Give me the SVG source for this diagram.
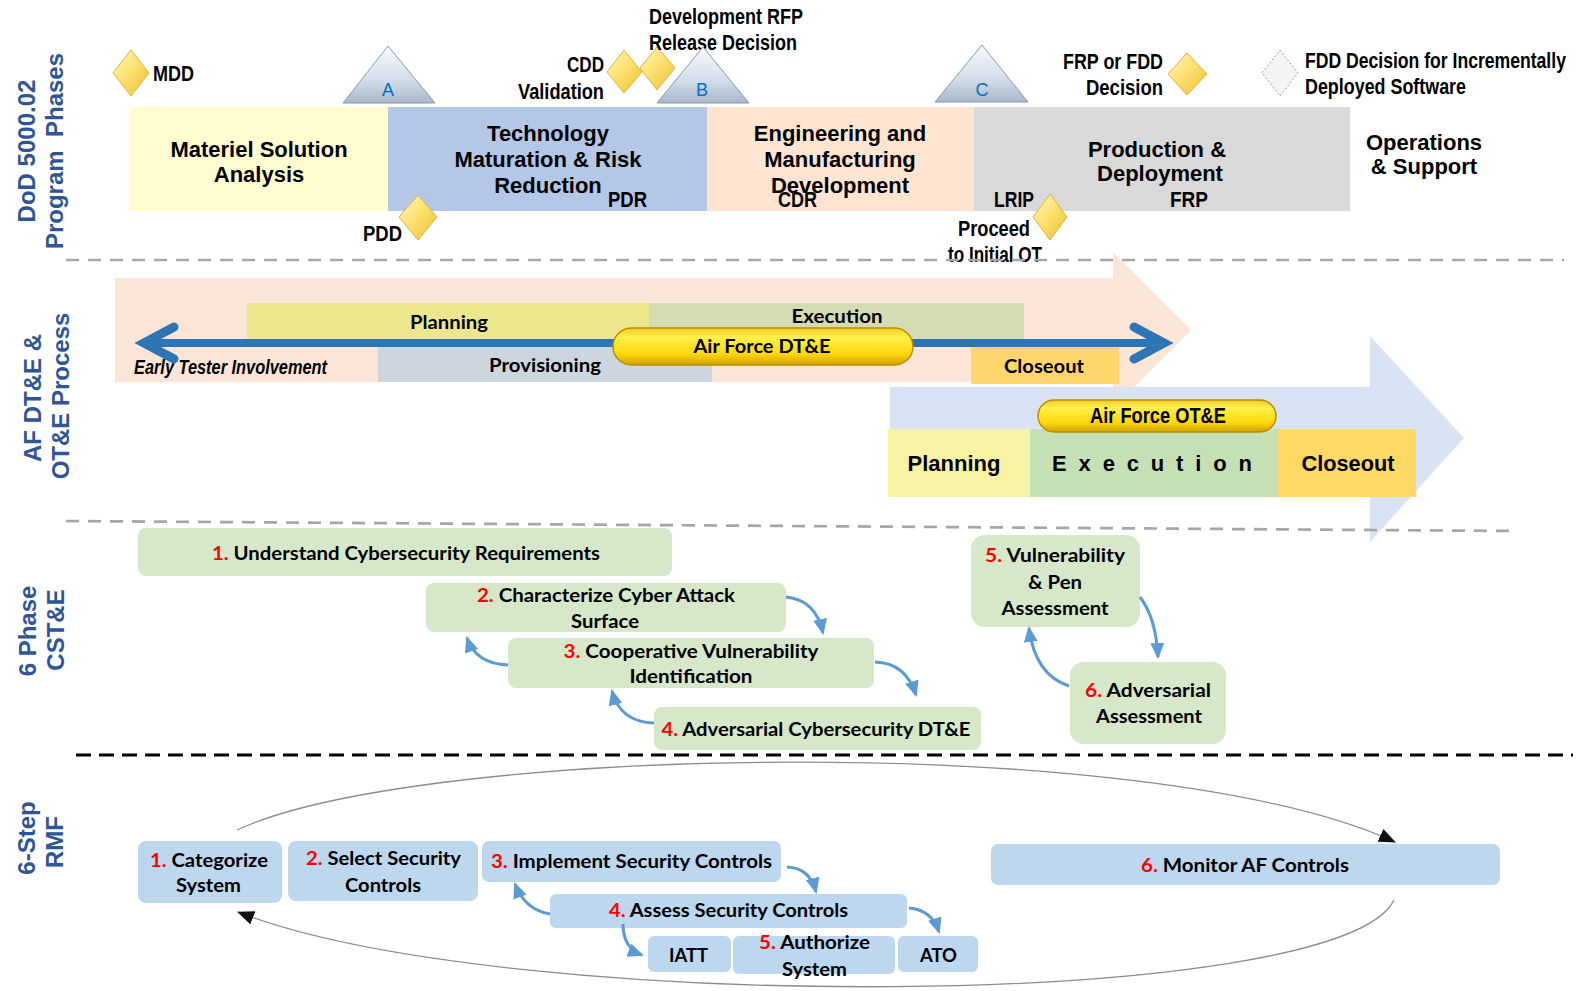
<svg xmlns="http://www.w3.org/2000/svg" width="1589" height="991" viewBox="0 0 1589 991">
<defs>
<linearGradient id="gold" x1="0" y1="0" x2="1" y2="1">
<stop offset="0" stop-color="#FFF6C4"/><stop offset="0.45" stop-color="#FFE274"/><stop offset="1" stop-color="#E9BC2C"/>
</linearGradient>
<linearGradient id="tri" x1="0" y1="0" x2="0" y2="1">
<stop offset="0" stop-color="#F8FAFD"/><stop offset="0.6" stop-color="#D3DDEA"/><stop offset="1" stop-color="#A8B7CA"/>
</linearGradient>
<linearGradient id="pill" x1="0" y1="0" x2="0" y2="1">
<stop offset="0" stop-color="#F0CB2A"/><stop offset="0.25" stop-color="#FFF04A"/><stop offset="0.7" stop-color="#FFD70E"/><stop offset="1" stop-color="#D3A000"/>
</linearGradient>
<marker id="ba" viewBox="0 0 16 14" refX="14" refY="7" markerWidth="16" markerHeight="14" markerUnits="userSpaceOnUse" orient="auto">
<path d="M0,0 L16,7 L0,14 z" fill="#5B9BD5"/>
</marker>
<marker id="ka" viewBox="0 0 17 14" refX="16" refY="7" markerWidth="17" markerHeight="14" markerUnits="userSpaceOnUse" orient="auto">
<path d="M0,0 L17,7 L0,14 z" fill="#111111"/>
</marker>
<style>
.t22{font-family:"Liberation Sans",Arial,sans-serif;font-weight:bold;font-size:22px;fill:#000;text-anchor:middle}
.nar{font-family:"Liberation Sans Narrow","Liberation Sans",Arial,sans-serif;font-weight:bold;font-size:22px;fill:#000}
.cal{font-family:Lato,"Open Sans",sans-serif;font-weight:bold;font-size:19px;fill:#000;text-anchor:middle}
.side{font-family:"Liberation Sans",Arial,sans-serif;font-weight:bold;font-size:24px;fill:#2F5597;text-anchor:middle}
.tl{font-family:"Liberation Sans",Arial,sans-serif;font-size:18px;fill:#0070C0;text-anchor:middle}
.num{fill:#FF0000}
.gbox{fill:#D6E8C9}
.bbox{fill:#BDD7EE}
.conn{fill:none;stroke:#5B9BD5;stroke-width:3;marker-end:url(#ba)}
.arc{fill:none;stroke:#8C8C8C;stroke-width:1.3;marker-end:url(#ka)}
.gold{fill:url(#gold);stroke:#E0B23A;stroke-width:1}
.tri{fill:url(#tri);stroke:#8A98AB;stroke-width:1}
.pill{fill:url(#pill);stroke:#B88F00;stroke-width:1.5}
.gdash{stroke:#A6A6A6;stroke-width:2.7;stroke-dasharray:13 9;fill:none}
</style>
</defs>

<g id="side-labels">
<text class="side" transform="translate(35,151) rotate(-90)">DoD 5000.02</text>
<text class="side" xml:space="preserve" transform="translate(63,151) rotate(-90)">Program  Phases</text>
<text class="side" transform="translate(41,398) rotate(-90)">AF DT&amp;E &amp;</text>
<text class="side" transform="translate(69,396) rotate(-90)">OT&amp;E Process</text>
<text class="side" transform="translate(36,631) rotate(-90)">6 Phase</text>
<text class="side" transform="translate(64,630) rotate(-90)">CST&amp;E</text>
<text class="side" transform="translate(35,838) rotate(-90)">6-Step</text>
<text class="side" transform="translate(63,842) rotate(-90)">RMF</text>
</g>

<!-- Section 1: DoD phases -->
<g id="phase-msa">
<rect x="129" y="107" width="259" height="104" fill="#FFFDD0"/>
<text class="t22" x="259" y="157">Materiel Solution</text>
<text class="t22" x="259" y="182">Analysis</text>
</g>
<g id="phase-tmrr">
<rect x="388" y="107" width="319" height="104" fill="#B4C7E7"/>
<text class="t22" x="548" y="141">Technology</text>
<text class="t22" x="548" y="167">Maturation &amp; Risk</text>
<text class="t22" x="548" y="193">Reduction</text>
<text class="nar" x="608" y="207" textLength="39" lengthAdjust="spacingAndGlyphs">PDR</text>
</g>
<g id="phase-emd">
<rect x="707" y="107" width="267" height="104" fill="#FDE5D1"/>
<text class="t22" x="840" y="141">Engineering and</text>
<text class="t22" x="840" y="167">Manufacturing</text>
<text class="t22" x="840" y="193">Development</text>
<text class="nar" x="778" y="207" textLength="39" lengthAdjust="spacingAndGlyphs">CDR</text>
</g>
<g id="phase-pd">
<rect x="974" y="107" width="376" height="104" fill="#D9D9D9"/>
<text class="t22" x="1157" y="157">Production &amp;</text>
<text class="t22" x="1160" y="181">Deployment</text>
<text class="nar" x="994" y="207" textLength="40" lengthAdjust="spacingAndGlyphs">LRIP</text>
<text class="nar" x="1170" y="207" textLength="38" lengthAdjust="spacingAndGlyphs">FRP</text>
</g>
<g id="phase-os">
<text class="t22" x="1424" y="150">Operations</text>
<text class="t22" x="1424" y="174">&amp; Support</text>
</g>

<g id="milestone-mdd">
<polygon class="gold" points="131,50 149,73 131,96 113,73"/>
<text class="nar" x="153" y="81" textLength="41" lengthAdjust="spacingAndGlyphs">MDD</text>
</g>
<g id="milestone-a">
<polygon class="tri" points="388,46 435,103 343,103"/>
<text class="tl" x="388" y="96">A</text>
</g>
<g id="milestone-pdd">
<polygon class="gold" points="418,195 437,217 418,240 399,217"/>
<text class="nar" x="363" y="241" textLength="39" lengthAdjust="spacingAndGlyphs">PDD</text>
</g>
<g id="milestone-cdd">
<polygon class="gold" points="624,50 642,72 624,93 607,72"/>
<text class="nar" x="567" y="72" textLength="37" lengthAdjust="spacingAndGlyphs">CDD</text>
<text class="nar" x="518" y="99" textLength="86" lengthAdjust="spacingAndGlyphs">Validation</text>
</g>
<g id="milestone-rfp">
<polygon class="gold" points="657,47 675,68 657,90 640,68"/>
<text class="nar" x="649" y="24" textLength="154" lengthAdjust="spacingAndGlyphs">Development RFP</text>
<text class="nar" x="649" y="50" textLength="148" lengthAdjust="spacingAndGlyphs">Release Decision</text>
</g>
<g id="milestone-b">
<polygon class="tri" points="703,47 749,103 657,103"/>
<text class="tl" x="702" y="96">B</text>
</g>
<g id="milestone-c">
<polygon class="tri" points="982,45 1028,102 935,102"/>
<text class="tl" x="982" y="96">C</text>
</g>
<g id="milestone-lrip">
<polygon class="gold" points="1050,194 1067,217 1050,240 1033,217"/>
<text class="nar" x="958" y="236" textLength="72" lengthAdjust="spacingAndGlyphs">Proceed</text>
<text class="nar" x="948" y="262" textLength="94" lengthAdjust="spacingAndGlyphs">to Initial OT</text>
</g>
<g id="milestone-frp">
<polygon class="gold" points="1187,53 1207,74 1187,95 1168,74"/>
<text class="nar" x="1063" y="69" textLength="100" lengthAdjust="spacingAndGlyphs">FRP or FDD</text>
<text class="nar" x="1086" y="95" textLength="77" lengthAdjust="spacingAndGlyphs">Decision</text>
</g>
<g id="milestone-fdd">
<polygon points="1280,50 1298,73 1280,96 1262,73" fill="#F4F4F4" stroke="#9A9A9A" stroke-width="1" stroke-dasharray="2 2"/>
<text class="nar" transform="translate(1305,68) scale(0.8,1)" x="0" y="0" style="font-family:'Liberation Sans',Arial,sans-serif">FDD Decision for Incrementally</text>
<text class="nar" x="1305" y="94" textLength="161" lengthAdjust="spacingAndGlyphs">Deployed Software</text>
</g>

<!-- Section 2: AF DT&E / OT&E -->
<g id="dte-process">
<polygon points="115,278 1113,278 1113,252 1191,330 1113,408 1113,382 115,382" fill="#FBE5D6"/>
<rect x="247" y="303" width="402" height="38" fill="#ECE78C"/>
<rect x="649" y="303" width="375" height="38" fill="#D4DCB2"/>
<rect x="378" y="347" width="334" height="35" fill="#CDD5DF"/>
<rect x="971" y="346" width="148" height="38" fill="#FFD66B"/>
<text class="cal" x="449" y="329" textLength="78" lengthAdjust="spacingAndGlyphs">Planning</text>
<text class="cal" x="837" y="323" textLength="91" lengthAdjust="spacingAndGlyphs">Execution</text>
<text class="cal" x="545" y="372" textLength="112" lengthAdjust="spacingAndGlyphs">Provisioning</text>
<text class="cal" x="1044" y="373" textLength="80" lengthAdjust="spacingAndGlyphs">Closeout</text>
<text x="134" y="374" textLength="193" lengthAdjust="spacingAndGlyphs" style="font-family:'Liberation Sans',Arial,sans-serif;font-weight:bold;font-style:italic;font-size:20px;fill:#000">Early Tester Involvement</text>
</g>
<g id="ote-process">
<polygon points="890,387 1370,387 1370,336 1464,438 1370,542 1370,497 890,497" fill="#DAE3F3"/>
<rect x="888" y="429" width="142" height="68" fill="#F6F3A3"/>
<rect x="1030" y="429" width="248" height="68" fill="#C5E0B4"/>
<rect x="1278" y="429" width="138" height="68" fill="#FFD966"/>
<text class="t22" x="954" y="471" textLength="93" lengthAdjust="spacingAndGlyphs">Planning</text>
<text class="t22" x="1152" y="471" textLength="200">E x e c u t i o n</text>
<text class="t22" x="1348" y="471" textLength="93" lengthAdjust="spacingAndGlyphs">Closeout</text>
</g>

<g id="dividers">
<line class="gdash" x1="66" y1="260" x2="1564" y2="260"/>
<line class="gdash" x1="66" y1="521" x2="1517" y2="531"/>
<line x1="76" y1="755" x2="1573" y2="755" stroke="#000" stroke-width="3" stroke-dasharray="15 8"/>
</g>

<g id="dte-timeline">
<line x1="146" y1="343" x2="1162" y2="343" stroke="#2E75B6" stroke-width="8"/>
<polyline points="174,327 144,343 174,359" fill="none" stroke="#2E75B6" stroke-width="9" stroke-linecap="round" stroke-linejoin="miter"/>
<polyline points="1134,327 1164,343 1134,359" fill="none" stroke="#2E75B6" stroke-width="9" stroke-linecap="round" stroke-linejoin="miter"/>
</g>
<g id="af-dte-pill">
<rect class="pill" x="613" y="328" width="300" height="37" rx="18.5"/>
<text class="cal" x="762" y="353" textLength="137" lengthAdjust="spacingAndGlyphs">Air Force DT&amp;E</text>
</g>
<g id="af-ote-pill">
<rect class="pill" x="1038" y="400" width="238" height="32" rx="16"/>
<text class="nar" x="1158" y="423" text-anchor="middle" textLength="136" lengthAdjust="spacingAndGlyphs">Air Force OT&amp;E</text>
</g>

<!-- Section 3: 6 Phase CST&E -->
<g id="cst-1">
<rect class="gbox" x="138" y="528" width="534" height="48" rx="8"/>
<text class="cal" x="406" y="560" textLength="388" lengthAdjust="spacingAndGlyphs"><tspan class="num">1.</tspan> Understand Cybersecurity Requirements</text>
</g>
<g id="cst-2">
<rect class="gbox" x="426" y="583" width="360" height="49" rx="8"/>
<text class="cal" x="606" y="602" textLength="258" lengthAdjust="spacingAndGlyphs"><tspan class="num">2.</tspan> Characterize Cyber Attack</text>
<text class="cal" x="605" y="628" textLength="68" lengthAdjust="spacingAndGlyphs">Surface</text>
</g>
<g id="cst-3">
<rect class="gbox" x="508" y="638" width="366" height="50" rx="8"/>
<text class="cal" x="691" y="658" textLength="255" lengthAdjust="spacingAndGlyphs"><tspan class="num">3.</tspan> Cooperative Vulnerability</text>
<text class="cal" x="691" y="683" textLength="123" lengthAdjust="spacingAndGlyphs">Identification</text>
</g>
<g id="cst-4">
<rect class="gbox" x="654" y="707" width="327" height="43" rx="8"/>
<text class="cal" x="816" y="736" textLength="309" lengthAdjust="spacingAndGlyphs"><tspan class="num">4.</tspan> Adversarial Cybersecurity DT&amp;E</text>
</g>
<g id="cst-5">
<rect class="gbox" x="971" y="535" width="169" height="92" rx="14"/>
<text class="cal" x="1055" y="562" textLength="140" lengthAdjust="spacingAndGlyphs"><tspan class="num">5.</tspan> Vulnerability</text>
<text class="cal" x="1055" y="589" textLength="54" lengthAdjust="spacingAndGlyphs">&amp; Pen</text>
<text class="cal" x="1055" y="615" textLength="107" lengthAdjust="spacingAndGlyphs">Assessment</text>
</g>
<g id="cst-6">
<rect class="gbox" x="1070" y="662" width="156" height="82" rx="14"/>
<text class="cal" x="1148" y="697" textLength="126" lengthAdjust="spacingAndGlyphs"><tspan class="num">6.</tspan> Adversarial</text>
<text class="cal" x="1149" y="723" textLength="106" lengthAdjust="spacingAndGlyphs">Assessment</text>
</g>

<!-- Section 4: RMF -->
<g id="rmf-1">
<rect class="bbox" x="138" y="841" width="144" height="62" rx="8"/>
<text class="cal" x="209" y="867" textLength="118" lengthAdjust="spacingAndGlyphs"><tspan class="num">1.</tspan> Categorize</text>
<text class="cal" x="208.5" y="892" textLength="65" lengthAdjust="spacingAndGlyphs">System</text>
</g>
<g id="rmf-2">
<rect class="bbox" x="288" y="841" width="190" height="60" rx="8"/>
<text class="cal" x="383.5" y="865" textLength="155" lengthAdjust="spacingAndGlyphs"><tspan class="num">2.</tspan> Select Security</text>
<text class="cal" x="383" y="892" textLength="76" lengthAdjust="spacingAndGlyphs">Controls</text>
</g>
<g id="rmf-3">
<rect class="bbox" x="482" y="841" width="299" height="41" rx="7"/>
<text class="cal" x="631.5" y="868" textLength="281" lengthAdjust="spacingAndGlyphs"><tspan class="num">3.</tspan> Implement Security Controls</text>
</g>
<g id="rmf-4">
<rect class="bbox" x="550" y="894" width="357" height="34" rx="6"/>
<text class="cal" x="728.5" y="917" textLength="239" lengthAdjust="spacingAndGlyphs"><tspan class="num">4.</tspan> Assess Security Controls</text>
</g>
<g id="rmf-iatt">
<rect class="bbox" x="648" y="936" width="83" height="36" rx="6"/>
<text class="cal" x="688.5" y="962" textLength="39" lengthAdjust="spacingAndGlyphs">IATT</text>
</g>
<g id="rmf-5">
<rect class="bbox" x="733" y="936" width="162" height="38" rx="6"/>
<text class="cal" x="814.5" y="949" textLength="111" lengthAdjust="spacingAndGlyphs"><tspan class="num">5.</tspan> Authorize</text>
<text class="cal" x="814.5" y="976" textLength="65" lengthAdjust="spacingAndGlyphs">System</text>
</g>
<g id="rmf-ato">
<rect class="bbox" x="898" y="936" width="80" height="36" rx="6"/>
<text class="cal" x="938.5" y="962" textLength="37" lengthAdjust="spacingAndGlyphs">ATO</text>
</g>
<g id="rmf-6">
<rect class="bbox" x="991" y="844" width="509" height="41" rx="7"/>
<text class="cal" x="1245" y="872" textLength="208" lengthAdjust="spacingAndGlyphs"><tspan class="num">6.</tspan> Monitor AF Controls</text>
</g>

<g id="connectors">
<path class="conn" d="M786,597 Q816,600 823,633"/>
<path class="conn" d="M875,662 Q906,663 916,695"/>
<path class="conn" d="M508,665 Q476,664 467,638"/>
<path class="conn" d="M654,723 Q620,722 612,691"/>
<path class="conn" d="M1140,597 Q1156,618 1158,657"/>
<path class="conn" d="M1069,686 Q1035,675 1029,628"/>
<path class="conn" d="M787,867 Q810,868 816,892"/>
<path class="conn" d="M909,908 Q932,910 939,932"/>
<path class="conn" d="M550,914 Q525,910 515,884"/>
<path class="conn" d="M623,924 Q623,948 642,955"/>
<path class="arc" d="M237,830 C420,745 1150,730 1395,842"/>
<path class="arc" d="M1394,900 C1340,1012 500,1015 238,912"/>
</g>
</svg>
